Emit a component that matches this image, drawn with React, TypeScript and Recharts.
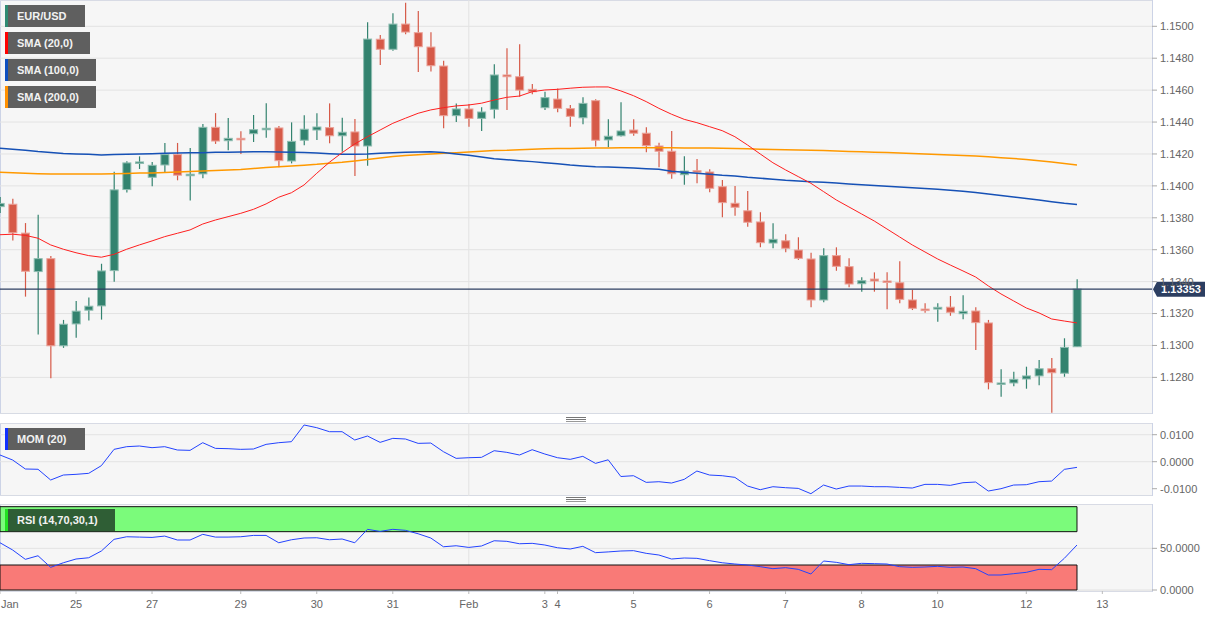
import { ComposedChart, Bar, Line, XAxis, YAxis, CartesianGrid, ReferenceLine, ReferenceArea } from 'recharts'

// EUR/USD 4h candles, Jan 24 -> Feb 12
const openP = [1.13870, 1.13885, 1.13704, 1.13463, 1.13544, 1.12998, 1.13135, 1.13221, 1.13248, 1.13469,
  1.13977, 1.14144, 1.14054, 1.14131, 1.14196, 1.14067, 1.14075, 1.14367, 1.14283, 1.14298,
  1.14327, 1.14355, 1.14363, 1.14156, 1.14286, 1.14350, 1.14365, 1.14314, 1.14338, 1.14250,
  1.14919, 1.14856, 1.15014, 1.14960, 1.14870, 1.14751, 1.14440, 1.14482, 1.14423, 1.14480,
  1.14695, 1.14684, 1.14605, 1.14490, 1.14544, 1.14484, 1.14427, 1.14534, 1.14288, 1.14314,
  1.14350, 1.14330, 1.14250, 1.14217, 1.14070, 1.14095, 1.14087, 1.13995, 1.13891, 1.13844,
  1.13774, 1.13642, 1.13656, 1.13598, 1.13542, 1.13285, 1.13563, 1.13494, 1.13387, 1.13416,
  1.13404, 1.13393, 1.13285, 1.13228, 1.13228, 1.13240, 1.13199, 1.13216, 1.13141, 1.12759,
  1.12765, 1.12790, 1.12809, 1.12854, 1.12826, 1.12992]
const highP = [1.13930, 1.13919, 1.13767, 1.13819, 1.13560, 1.13160, 1.13279, 1.13300, 1.13512, 1.14088,
  1.14154, 1.14185, 1.14150, 1.14269, 1.14269, 1.14238, 1.14388, 1.14456, 1.14425, 1.14342,
  1.14444, 1.14518, 1.14375, 1.14398, 1.14442, 1.14455, 1.14517, 1.14427, 1.14419, 1.15025,
  1.14945, 1.15081, 1.15148, 1.15096, 1.14962, 1.14784, 1.14517, 1.14513, 1.14492, 1.14762,
  1.14862, 1.14887, 1.14638, 1.14590, 1.14611, 1.14507, 1.14555, 1.14543, 1.14417, 1.14524,
  1.14417, 1.14367, 1.14271, 1.14344, 1.14185, 1.14168, 1.14104, 1.14037, 1.13999, 1.13968,
  1.13834, 1.13766, 1.13697, 1.13678, 1.13581, 1.13609, 1.13615, 1.13546, 1.13427, 1.13458,
  1.13458, 1.13527, 1.13348, 1.13264, 1.13264, 1.13310, 1.13314, 1.13239, 1.13160, 1.12851,
  1.12836, 1.12867, 1.12909, 1.12921, 1.13045, 1.13415]
const lowP = [1.13830, 1.13658, 1.13306, 1.13069, 1.12794, 1.12985, 1.13048, 1.13156, 1.13162, 1.13400,
  1.13958, 1.14106, 1.13998, 1.14085, 1.14035, 1.13908, 1.14048, 1.14263, 1.14223, 1.14200,
  1.14275, 1.14302, 1.14116, 1.14141, 1.14254, 1.14287, 1.14267, 1.14214, 1.14062, 1.14126,
  1.14757, 1.14847, 1.14950, 1.14714, 1.14716, 1.14361, 1.14400, 1.14371, 1.14344, 1.14423,
  1.14476, 1.14559, 1.14574, 1.14476, 1.14461, 1.14371, 1.14386, 1.14246, 1.14242, 1.14310,
  1.14314, 1.14210, 1.14116, 1.14045, 1.14007, 1.14016, 1.13960, 1.13803, 1.13813, 1.13744,
  1.13615, 1.13609, 1.13584, 1.13536, 1.13239, 1.13270, 1.13468, 1.13364, 1.13337, 1.13337,
  1.13227, 1.13264, 1.13222, 1.13205, 1.13149, 1.13186, 1.13164, 1.12972, 1.12725, 1.12679,
  1.12744, 1.12729, 1.12750, 1.12579, 1.12804, 1.12990]
const closeP = [1.13890, 1.13706, 1.13465, 1.13544, 1.12998, 1.13133, 1.13215, 1.13246, 1.13467, 1.13975,
  1.14144, 1.14150, 1.14129, 1.14196, 1.14067, 1.14073, 1.14367, 1.14281, 1.14298, 1.14292,
  1.14352, 1.14361, 1.14158, 1.14279, 1.14355, 1.14369, 1.14314, 1.14336, 1.14250, 1.14920,
  1.14856, 1.15014, 1.14964, 1.14872, 1.14753, 1.14440, 1.14482, 1.14423, 1.14463, 1.14695,
  1.14684, 1.14600, 1.14590, 1.14553, 1.14486, 1.14436, 1.14517, 1.14286, 1.14311, 1.14344,
  1.14330, 1.14252, 1.14217, 1.14076, 1.14093, 1.14087, 1.13985, 1.13895, 1.13866, 1.13772,
  1.13644, 1.13665, 1.13609, 1.13546, 1.13285, 1.13563, 1.13496, 1.13385, 1.13406, 1.13404,
  1.13396, 1.13289, 1.13233, 1.13222, 1.13239, 1.13208, 1.13214, 1.13143, 1.12767, 1.12765,
  1.12788, 1.12809, 1.12854, 1.12829, 1.12988, 1.13353]

const sma20 = [1.13694, 1.13697, 1.13690, 1.13672, 1.13630, 1.13603, 1.13581, 1.13563, 1.13553, 1.13571,
  1.13603, 1.13630, 1.13655, 1.13682, 1.13703, 1.13724, 1.13761, 1.13786, 1.13807, 1.13828,
  1.13853, 1.13887, 1.13929, 1.13957, 1.14006, 1.14079, 1.14148, 1.14208, 1.14263, 1.14308,
  1.14350, 1.14392, 1.14424, 1.14455, 1.14476, 1.14490, 1.14501, 1.14507, 1.14518, 1.14538,
  1.14555, 1.14563, 1.14590, 1.14601, 1.14605, 1.14612, 1.14618, 1.14620, 1.14620, 1.14595,
  1.14565, 1.14528, 1.14486, 1.14449, 1.14417, 1.14396, 1.14371, 1.14346, 1.14308, 1.14256,
  1.14200, 1.14145, 1.14100, 1.14058, 1.14016, 1.13964, 1.13912, 1.13868, 1.13824, 1.13780,
  1.13730, 1.13680, 1.13630, 1.13586, 1.13542, 1.13504, 1.13467, 1.13429, 1.13373, 1.13323,
  1.13279, 1.13235, 1.13204, 1.13166, 1.13153, 1.13141]
const sma100 = [1.14236, 1.14229, 1.14223, 1.14215, 1.14209, 1.14203, 1.14200, 1.14198, 1.14194, 1.14196,
  1.14198, 1.14200, 1.14202, 1.14204, 1.14206, 1.14208, 1.14208, 1.14210, 1.14210, 1.14212,
  1.14214, 1.14214, 1.14212, 1.14210, 1.14209, 1.14206, 1.14202, 1.14198, 1.14198, 1.14200,
  1.14204, 1.14208, 1.14210, 1.14212, 1.14214, 1.14209, 1.14200, 1.14192, 1.14181, 1.14170,
  1.14164, 1.14158, 1.14152, 1.14145, 1.14139, 1.14131, 1.14125, 1.14120, 1.14118, 1.14115,
  1.14112, 1.14108, 1.14104, 1.14091, 1.14085, 1.14079, 1.14073, 1.14066, 1.14062, 1.14054,
  1.14048, 1.14041, 1.14035, 1.14031, 1.14026, 1.14023, 1.14018, 1.14012, 1.14007, 1.14002,
  1.13997, 1.13993, 1.13988, 1.13984, 1.13979, 1.13972, 1.13966, 1.13959, 1.13949, 1.13940,
  1.13930, 1.13921, 1.13912, 1.13901, 1.13891, 1.13883]
const sma200 = [1.14085, 1.14082, 1.14079, 1.14076, 1.14074, 1.14074, 1.14074, 1.14074, 1.14074, 1.14076,
  1.14078, 1.14080, 1.14081, 1.14084, 1.14087, 1.14090, 1.14093, 1.14096, 1.14100, 1.14103,
  1.14109, 1.14115, 1.14120, 1.14125, 1.14130, 1.14135, 1.14142, 1.14148, 1.14156, 1.14165,
  1.14175, 1.14184, 1.14190, 1.14195, 1.14200, 1.14204, 1.14208, 1.14212, 1.14217, 1.14221,
  1.14223, 1.14227, 1.14229, 1.14232, 1.14234, 1.14235, 1.14236, 1.14237, 1.14238, 1.14239,
  1.14239, 1.14239, 1.14239, 1.14239, 1.14238, 1.14237, 1.14237, 1.14236, 1.14234, 1.14232,
  1.14230, 1.14228, 1.14227, 1.14225, 1.14223, 1.14221, 1.14219, 1.14216, 1.14214, 1.14211,
  1.14209, 1.14206, 1.14203, 1.14200, 1.14197, 1.14194, 1.14191, 1.14187, 1.14182, 1.14177,
  1.14172, 1.14165, 1.14158, 1.14150, 1.14140, 1.14131]

const mom20 = [0.00248, 0.00062, -0.00270, -0.00281, -0.00678, -0.00493, -0.00468, -0.00431, -0.00147, 0.00457,
  0.00556, 0.00581, 0.00519, 0.00556, 0.00433, 0.00420, 0.00704, 0.00494, 0.00482, 0.00457,
  0.00470, 0.00642, 0.00704, 0.00741, 0.01359, 0.01259, 0.01111, 0.01111, 0.00803, 0.00951,
  0.00716, 0.00864, 0.00840, 0.00679, 0.00691, 0.00370, 0.00124, 0.00148, 0.00161, 0.00407,
  0.00346, 0.00248, 0.00444, 0.00284, 0.00148, 0.00087, 0.00198, -0.00062, 0.00070, -0.00548,
  -0.00519, -0.00765, -0.00741, -0.00790, -0.00654, -0.00346, -0.00494, -0.00519, -0.00580, -0.00901,
  -0.01037, -0.00926, -0.00963, -0.00988, -0.01185, -0.00864, -0.01012, -0.00901, -0.00901, -0.00926,
  -0.00926, -0.00951, -0.00975, -0.00839, -0.00839, -0.00876, -0.00778, -0.00753, -0.01086, -0.01000,
  -0.00864, -0.00852, -0.00741, -0.00716, -0.00284, -0.00210]
const rsi14 = [56.7, 48.0, 36.8, 41.1, 27.2, 32.7, 37.2, 38.7, 46.8, 60.8,
  63.9, 63.5, 63.1, 64.7, 60.0, 60.0, 66.8, 63.5, 63.5, 63.9,
  65.5, 65.5, 56.7, 60.3, 62.4, 62.7, 60.3, 61.2, 56.7, 72.8,
  70.3, 72.8, 71.6, 67.5, 62.4, 51.9, 53.1, 51.1, 52.8, 59.1,
  58.4, 55.5, 56.0, 54.0, 50.7, 49.2, 52.4, 44.8, 45.7, 46.8,
  47.2, 44.0, 42.0, 37.2, 38.4, 38.0, 35.2, 32.7, 31.2, 30.0,
  28.0, 25.6, 26.8, 24.8, 19.2, 34.8, 33.2, 30.4, 32.0, 31.6,
  31.2, 28.0, 27.2, 27.6, 28.4, 27.2, 27.6, 25.6, 18.0, 18.0,
  19.6, 21.2, 24.8, 24.4, 38.0, 54.0]

const tickIdx = [0, 6, 12, 19, 25, 31, 37, 43, 44, 50, 56, 62, 68, 74, 81, 87]
const tickLabels = ['Jan', '25', '27', '29', '30', '31', 'Feb', '3', '4', '5', '6', '7', '8', '10', '12', '13']
const priceTicks = [1.126, 1.128, 1.13, 1.132, 1.134, 1.136, 1.138, 1.14, 1.142, 1.144, 1.146, 1.148, 1.15]
const momTicks = [-0.01, 0, 0.01]
const rsiTicks = [0, 50]
const lastPrice = 1.13353
const febIdx = 37
const lastIdx = 85

const data = openP.map((o, i) => ({
  i, o, h: highP[i], l: lowP[i], c: closeP[i],
  sma20: sma20[i], sma100: sma100[i], sma200: sma200[i],
  mom: mom20[i], rsi: rsi14[i]
}))

const FONT = '"Liberation Sans", Arial, sans-serif'
const xDomain = [0, 90.92]
const axisTick = { fill: '#666', fontSize: 11, fontFamily: FONT }
const GRID = '#e3e3e3'

function Candle(props: any) {
  const { x, y, width, height } = props
  const p = props.payload ?? props
  if (p == null || y == null || height == null) return null
  const { o, h, l, c } = p
  const top = Math.min(y, y + height)
  const span = Math.abs(height)
  const k = h === l ? 0 : span / (h - l)
  const py = (v: number) => top + (h - v) * k
  const up = c >= o
  const fill = up ? '#33836f' : '#d65a48'
  const edge = up ? '#8fbdb1' : '#eba39a'
  const cx = x + width / 2
  const bTop = py(Math.max(o, c))
  const bH = Math.max(py(Math.min(o, c)) - bTop, 1.5)
  return (
    <g>
      <line x1={cx} x2={cx} y1={top} y2={top + span} stroke={fill} strokeWidth={1.2} />
      <rect x={x + 0.5} y={bTop} width={width - 1} height={bH} fill={fill} stroke={edge} strokeWidth={1} />
    </g>
  )
}

function PriceTag(props: any) {
  const vb = props.viewBox || {}
  const y = vb.y
  const left = vb.x + vb.width + 1
  return (
    <g>
      <path d={`M${left} ${y} L${left + 4} ${y - 7.5} L${left + 52} ${y - 7.5} L${left + 52} ${y + 7.5} L${left + 4} ${y + 7.5} Z`} fill="#2c3e61" />
      <text x={left + 28} y={y + 4} textAnchor="middle" fill="#fff" fontSize={11} fontWeight="bold" fontFamily={FONT}>{lastPrice.toFixed(5)}</text>
    </g>
  )
}

function DateTick(props: any) {
  const { x, y, payload } = props
  const k = tickIdx.indexOf(payload.value)
  const first = payload.value === 0
  return (
    <text x={first ? x + 1 : x} y={y + 12} textAnchor={first ? 'start' : 'middle'} fill="#666" fontSize={11} fontFamily={FONT}>
      {k >= 0 ? tickLabels[k] : ''}
    </text>
  )
}

function Tag({ left, top, w, color, bg = '#5f5f5f', text }: any) {
  return (
    <div style={{ position: 'absolute', left, top, width: w, height: 22, background: bg, color: '#f2f2f2', fontSize: 11, fontWeight: 'bold', lineHeight: '22px', fontFamily: FONT, boxSizing: 'border-box', paddingLeft: 12 }}>
      <div style={{ position: 'absolute', left: 0, top: 0, width: 2.5, height: 22, background: color }} />
      {text}
    </div>
  )
}

function Panel({ top, height }: any) {
  return <div style={{ position: 'absolute', left: 0, top, width: 1153, height, background: '#f6f6f6', border: '1px solid #ccd3e6', boxSizing: 'border-box' }} />
}

function Handle({ top }: any) {
  return (
    <div style={{ position: 'absolute', left: 566, top, width: 20 }}>
      <div style={{ height: 1, background: '#777', marginBottom: 1 }} />
      <div style={{ height: 1, background: '#777', marginBottom: 1 }} />
      <div style={{ height: 1, background: '#999' }} />
    </div>
  )
}

export default function App() {
  const m = { top: 0, right: 0, bottom: 0, left: 0 }
  return (
    <div style={{ position: 'absolute', left: 0, top: 0, width: 1223, height: 617, background: '#fff', overflow: 'hidden', fontFamily: FONT }}>
      <Panel top={0} height={414} />
      <Panel top={423} height={73} />
      <Panel top={504} height={88} />
      <Handle top={417} />
      <Handle top={497} />

      <div style={{ position: 'absolute', left: 0, top: 0 }}>
        <ComposedChart width={1223} height={414} data={data} margin={m}>
          <CartesianGrid stroke={GRID} verticalValues={[febIdx]} />
          <XAxis type="number" dataKey="i" domain={xDomain} hide allowDataOverflow />
          <YAxis orientation="right" width={71} domain={[1.125705, 1.151648]} ticks={priceTicks} allowDataOverflow
            tickFormatter={(v: number) => v.toFixed(4)} axisLine={false} tickLine={{ stroke: '#aaa' }} tickSize={5} tickMargin={3} tick={axisTick} />
          <Bar dataKey={(d: any) => [d.l, d.h]} barSize={9} shape={Candle} isAnimationActive={false} />
          <Line dataKey="sma200" stroke="#ff9900" strokeWidth={1.5} dot={false} activeDot={false} isAnimationActive={false} />
          <Line dataKey="sma100" stroke="#1651b6" strokeWidth={1.5} dot={false} activeDot={false} isAnimationActive={false} />
          <Line dataKey="sma20" stroke="#ff1f1f" strokeWidth={1} dot={false} activeDot={false} isAnimationActive={false} />
          <ReferenceLine y={lastPrice} stroke="#2c3e61" strokeWidth={1.2} label={<PriceTag />} />
        </ComposedChart>
      </div>

      <div style={{ position: 'absolute', left: 0, top: 423 }}>
        <ComposedChart width={1223} height={73} data={data} margin={m}>
          <CartesianGrid stroke={GRID} verticalValues={[febIdx]} />
          <XAxis type="number" dataKey="i" domain={xDomain} hide allowDataOverflow />
          <YAxis orientation="right" width={71} domain={[-0.0127, 0.01433]} ticks={momTicks} allowDataOverflow
            tickFormatter={(v: number) => v.toFixed(4)} axisLine={false} tickLine={{ stroke: '#aaa' }} tickSize={5} tickMargin={3} tick={axisTick} />
          <Line dataKey="mom" stroke="#2343ff" strokeWidth={1} dot={false} activeDot={false} isAnimationActive={false} />
        </ComposedChart>
      </div>

      <div style={{ position: 'absolute', left: 0, top: 504 }}>
        <ComposedChart width={1223} height={113} data={data} margin={m}>
          <CartesianGrid stroke={GRID} verticalValues={[febIdx]} />
          <XAxis type="number" dataKey="i" domain={xDomain} ticks={tickIdx} interval={0} allowDataOverflow height={26}
            axisLine={false} tickLine={{ stroke: '#bbb' }} tickSize={3} tickMargin={2} tick={<DateTick />} />
          <YAxis orientation="right" width={71} domain={[-1.2, 103.2]} ticks={rsiTicks} allowDataOverflow
            tickFormatter={(v: number) => v.toFixed(4)} axisLine={false} tickLine={{ stroke: '#aaa' }} tickSize={5} tickMargin={3} tick={axisTick} />
          <ReferenceArea x1={0} x2={lastIdx} y1={70} y2={100} fill="#7bfb7b" fillOpacity={1} stroke="#111" strokeWidth={1} />
          <ReferenceArea x1={0} x2={lastIdx} y1={0} y2={30} fill="#f97a77" fillOpacity={1} stroke="#111" strokeWidth={1} />
          <Line dataKey="rsi" stroke="#2343ff" strokeWidth={1} dot={false} activeDot={false} isAnimationActive={false} />
        </ComposedChart>
      </div>

      <Tag left={5} top={5} w={80} color="#2f8a72" text="EUR/USD" />
      <Tag left={5} top={32} w={85} color="#ff0000" text="SMA (20,0)" />
      <Tag left={5} top={59} w={91} color="#0d4fc0" text="SMA (100,0)" />
      <Tag left={5} top={86} w={91} color="#ff9000" text="SMA (200,0)" />
      <Tag left={5} top={428} w={80} color="#1030ff" text="MOM (20)" />
      <Tag left={5} top={509} w={110} color="#22e022" bg="#2f5e35" text="RSI (14,70,30,1)" />
    </div>
  )
}
